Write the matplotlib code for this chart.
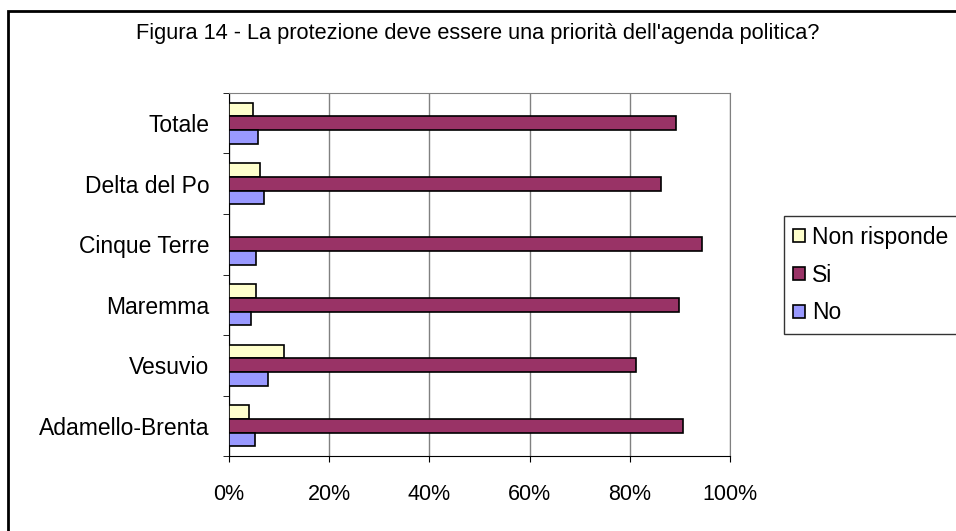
import matplotlib.pyplot as plt
import numpy as np
from matplotlib.patches import Rectangle

# data (percent), bottom to top as drawn
categories = ['Adamello-Brenta', 'Vesuvio', 'Maremma', 'Cinque Terre', 'Delta del Po', 'Totale']
non_risponde = [4.0, 11.0, 5.4, 0.0, 6.2, 4.7]
si = [90.7, 81.2, 89.9, 94.4, 86.3, 89.2]
no = [5.1, 7.8, 4.4, 5.4, 7.0, 5.8]

plt.rcParams['font.family'] = ['Liberation Sans', 'DejaVu Sans']

fig = plt.figure(figsize=(9.56, 5.31), dpi=100)
ax = fig.add_axes([229 / 956, 1 - 456 / 531, 501 / 956, 363 / 531])

y = np.arange(len(categories))
h = 0.225
ax.barh(y + h, non_risponde, h, color='#FFFFCC', edgecolor='black', linewidth=1.2,
        label='Non risponde', zorder=3)
ax.barh(y, si, h, color='#993366', edgecolor='black', linewidth=1.2, label='Si', zorder=3)
ax.barh(y - h, no, h, color='#9999FF', edgecolor='black', linewidth=1.2, label='No', zorder=3)

ax.set_xlim(0, 100)
ax.set_ylim(-0.5, len(categories) - 0.5)
ax.set_xticks(np.arange(0, 101, 20))
ax.set_xticklabels([f'{v}%' for v in range(0, 101, 20)])
ax.set_yticks(y)
ax.set_yticklabels(categories)
ax.set_yticks(np.arange(-0.5, len(categories), 1), minor=True)
ax.tick_params(axis='y', which='major', length=0, pad=14, labelsize=16.5)
ax.tick_params(axis='y', which='minor', length=4, direction='out')
ax.tick_params(axis='x', length=4, direction='out', pad=16, labelsize=15.5)
ax.grid(axis='x', color='#808080', linewidth=1, zorder=0)

for s in ['top', 'right']:
    ax.spines[s].set_color('#808080')
for s in ['left', 'bottom']:
    ax.spines[s].set_color('black')

fig.text(478 / 956, 1 - 33 / 531,
         "Figura 14 - La protezione deve essere una priorità dell'agenda politica?",
         ha='center', va='center', fontsize=15.7)

handles, labels = ax.get_legend_handles_labels()
leg = fig.legend(handles, labels, loc='center left', bbox_to_anchor=(784 / 956, 1 - 275 / 531),
                 frameon=True, fancybox=False, edgecolor='black', fontsize=16.5,
                 handlelength=0.52, handleheight=0.52, handletextpad=0.3,
                 labelspacing=0.65, borderpad=0.4, borderaxespad=0)
leg.get_frame().set_linewidth(1)

# outer chart frame (cut at right and bottom)
fig.patches.append(Rectangle((7.5 / 956, -0.1), 2, 1.1 - 11 / 531, transform=fig.transFigure,
                             fill=False, edgecolor='black', linewidth=2))

fig.savefig('out.png', dpi=100)
